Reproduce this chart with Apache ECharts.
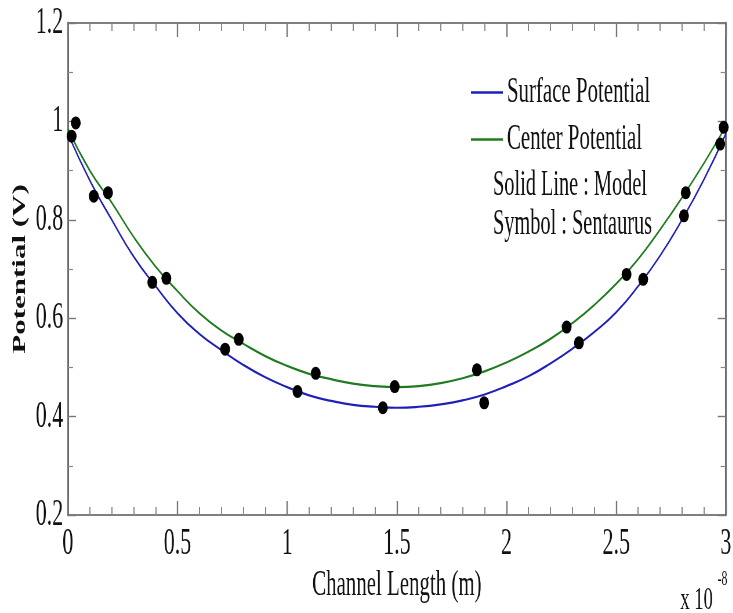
<!DOCTYPE html>
<html>
<head>
<meta charset="utf-8">
<script src="https://cdn.jsdelivr.net/npm/echarts@6/dist/echarts.min.js"></script>
<style>
    html, body { margin: 0; padding: 0; overflow: hidden; background: #fff; }
    /* the reference figure is squeezed sideways, so the chart is drawn wide and scaled */
    #grafico { width: 1264px; height: 613px; transform: scaleX(0.58); transform-origin: 0 0; }
</style>
</head>
<body>
<div id="grafico"></div>
<script>
var color_azul = '#1f1fb8';
var color_verde = '#1e7b1e';
var fuente = '"Liberation Serif", "Times New Roman", serif';

// channel length (x 1e-8 m)
var longitud = [0, 0.1, 0.2, 0.3, 0.4, 0.5, 0.6, 0.7, 0.8, 0.9, 1.0,
    1.1, 1.2, 1.3, 1.4, 1.5, 1.6, 1.7, 1.8, 1.9, 2.0,
    2.1, 2.2, 2.3, 2.4, 2.5, 2.6, 2.7, 2.8, 2.9, 3.0];

// model curves (V)
var potencial_superficie = [0.975, 0.88, 0.80, 0.725, 0.665, 0.61, 0.568, 0.535, 0.505, 0.48, 0.46,
    0.443, 0.432, 0.424, 0.42, 0.418, 0.42, 0.425, 0.433, 0.445, 0.462,
    0.482, 0.508, 0.538, 0.572, 0.612, 0.665, 0.727, 0.80, 0.882, 0.975];
var potencial_centro = [0.985, 0.90, 0.835, 0.765, 0.705, 0.655, 0.61, 0.575, 0.548, 0.523, 0.503,
    0.487, 0.476, 0.467, 0.462, 0.46, 0.462, 0.468, 0.478, 0.492, 0.51,
    0.532, 0.558, 0.59, 0.627, 0.67, 0.72, 0.78, 0.845, 0.915, 0.99];

// Sentaurus symbols
var sentaurus_x = [0.017, 0.036, 0.118, 0.183, 0.385, 0.449, 0.717, 0.779, 1.047, 1.13, 1.436, 1.49,
    1.865, 1.898, 2.274, 2.33, 2.547, 2.623, 2.809, 2.817, 2.974, 2.99];
var sentaurus_v = [0.970, 0.997, 0.848, 0.855, 0.673, 0.681, 0.537, 0.557, 0.451, 0.488, 0.418, 0.461,
    0.495, 0.428, 0.582, 0.550, 0.689, 0.679, 0.808, 0.855, 0.954, 0.988];

var ticks_x = ['0', '0.5', '1', '1.5', '2', '2.5', '3'];
var ticks_y = ['0.2', '0.4', '0.6', '0.8', '1', '1.2'];

function pares(xs, ys) {
    return xs.map(function(x, i) { return [x, ys[i]]; });
}

function eje_x(posicion, conEtiquetas) {
    return {
        type: 'value', position: posicion, min: 0, max: 3, interval: 0.5,
        name: conEtiquetas ? 'Channel Length (m)' : '',
        nameLocation: 'middle', nameGap: 44,
        nameTextStyle: { fontFamily: fuente, fontSize: 36, color: '#111' },
        axisLine: { show: true, onZero: false, lineStyle: { color: '#555', width: 1.5 } },
        axisTick: { show: true, inside: true, length: 14, lineStyle: { color: '#777', width: 2.4 } },
        minorTick: { show: true, splitNumber: 5, length: 8, lineStyle: { color: '#888', width: 2 } },
        axisLabel: {
            show: conEtiquetas, margin: 10, fontFamily: fuente, fontSize: 38, color: '#111',
            formatter: function(v) { return ticks_x[Math.round(v / 0.5)]; }
        },
        splitLine: { show: false }
    };
}

function eje_y(posicion, conEtiquetas) {
    return {
        type: 'value', position: posicion, min: 0.2, max: 1.2, interval: 0.2,
        name: conEtiquetas ? 'Potential (V)' : '',
        nameLocation: 'middle', nameGap: 64, nameRotate: 90,
        nameTextStyle: { fontFamily: fuente, fontSize: 31, fontWeight: 'bold', color: '#111' },
        axisLine: { show: true, onZero: false, lineStyle: { color: '#555', width: 2.6 } },
        axisTick: { show: true, inside: true, length: 14, lineStyle: { color: '#777', width: 1.4 } },
        minorTick: { show: true, splitNumber: 2, length: 9, lineStyle: { color: '#888', width: 1.2 } },
        axisLabel: {
            show: conEtiquetas, margin: 8, fontFamily: fuente, fontSize: 38, color: '#111',
            formatter: function(v) { return ticks_y[Math.round((v - 0.2) / 0.2)]; }
        },
        splitLine: { show: false }
    };
}

var grafico = echarts.init(document.getElementById('grafico'));
var option = {
    animation: false,
    backgroundColor: '#fff',
    grid: { left: 117, right: 9, top: 23, bottom: 98 },
    legend: {
        orient: 'vertical', left: 807, top: 69, itemGap: 10,
        icon: 'rect', itemWidth: 55, itemHeight: 2.5,
        textStyle: { fontFamily: fuente, fontSize: 36, lineHeight: 37, color: '#111', padding: [0, 0, 0, 2] },
        data: ['Surface Potential', 'Center Potential']
    },
    xAxis: [eje_x('bottom', true), eje_x('top', false)],
    yAxis: [eje_y('left', true), eje_y('right', false)],
    graphic: [
        { type: 'text', left: 850, top: 168, style: { text: 'Solid Line : Model', font: '35px ' + fuente, fill: '#111' } },
        { type: 'text', left: 850, top: 207, style: { text: 'Symbol : Sentaurus', font: '35px ' + fuente, fill: '#111' } },
        { type: 'text', right: 35, top: 585, style: { text: 'x 10', font: '32px ' + fuente, fill: '#111' } },
        { type: 'text', right: 10, top: 570, style: { text: '-8', font: '20px ' + fuente, fill: '#111' } }
    ],
    series: [
        {
            name: 'Surface Potential', type: 'line', smooth: true, symbol: 'none',
            color: color_azul, lineStyle: { width: 2.2 },
            data: pares(longitud, potencial_superficie)
        },
        {
            name: 'Center Potential', type: 'line', smooth: true, symbol: 'none',
            color: color_verde, lineStyle: { width: 2.2 },
            data: pares(longitud, potencial_centro)
        },
        {
            name: 'Sentaurus', type: 'scatter', symbol: 'circle', symbolSize: [17, 13],
            itemStyle: { color: '#000', opacity: 1 }, z: 5,
            data: pares(sentaurus_x, sentaurus_v)
        }
    ]
};
grafico.setOption(option);
</script>
</body>
</html>
